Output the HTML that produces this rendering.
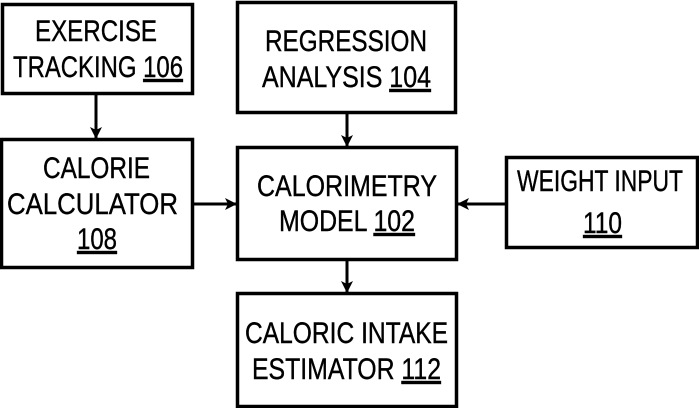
<!DOCTYPE html>
<html><head><meta charset="utf-8"><style>html,body{margin:0;padding:0;background:#fff}svg{display:block}</style></head>
<body>
<svg width="699" height="408" viewBox="0 0 699 408" xmlns="http://www.w3.org/2000/svg">
<defs><marker id="a" markerWidth="12" markerHeight="12" refX="11" refY="6" orient="auto" markerUnits="userSpaceOnUse"><path d="M0,0 L12,6 L0,12 L3,6 Z" fill="#000"/></marker></defs>
<g fill="#fff" stroke="#000" stroke-width="3.5">
<rect x="2.5" y="4.5" width="190" height="89"/>
<rect x="1.5" y="139.5" width="191" height="128"/>
<rect x="237.5" y="2.5" width="218" height="110"/>
<rect x="237.5" y="147.5" width="219" height="112"/>
<rect x="506.5" y="157.5" width="191" height="90"/>
<rect x="237.5" y="293.5" width="219" height="113"/>
</g>
<g stroke="#000" stroke-width="3" marker-end="url(#a)">
<line x1="96" y1="95" x2="96" y2="138"/>
<line x1="347" y1="113" x2="347" y2="146"/>
<line x1="194" y1="204" x2="236" y2="204"/>
<line x1="506" y1="204" x2="458" y2="204"/>
<line x1="347" y1="261" x2="347" y2="292"/>
</g>
<g font-family="Liberation Sans, Arial, sans-serif" font-size="30" fill="#000" stroke="#000" stroke-width="0.4">
<text x="35" y="41" textLength="122" lengthAdjust="spacingAndGlyphs">EXERCISE</text>
<text x="13" y="77" textLength="170" lengthAdjust="spacingAndGlyphs">TRACKING <tspan text-decoration="underline">106</tspan></text>
<text x="43" y="178" textLength="107" lengthAdjust="spacingAndGlyphs">CALORIE</text>
<text x="7" y="214" textLength="171" lengthAdjust="spacingAndGlyphs">CALCULATOR</text>
<text x="77" y="249" textLength="40" lengthAdjust="spacingAndGlyphs" text-decoration="underline">108</text>
<text x="265" y="51" textLength="162" lengthAdjust="spacingAndGlyphs">REGRESSION</text>
<text x="262" y="87" textLength="169" lengthAdjust="spacingAndGlyphs">ANALYSIS <tspan text-decoration="underline">104</tspan></text>
<text x="257" y="196" textLength="180" lengthAdjust="spacingAndGlyphs">CALORIMETRY</text>
<text x="279" y="231" textLength="136" lengthAdjust="spacingAndGlyphs">MODEL <tspan text-decoration="underline">102</tspan></text>
<text x="517" y="191" textLength="166" lengthAdjust="spacingAndGlyphs">WEIGHT INPUT</text>
<text x="583" y="233" textLength="39" lengthAdjust="spacingAndGlyphs" text-decoration="underline">110</text>
<text x="245" y="343" textLength="203" lengthAdjust="spacingAndGlyphs">CALORIC INTAKE</text>
<text x="252" y="379" textLength="189" lengthAdjust="spacingAndGlyphs">ESTIMATOR <tspan text-decoration="underline">112</tspan></text>
</g>
</svg>
</body></html>
